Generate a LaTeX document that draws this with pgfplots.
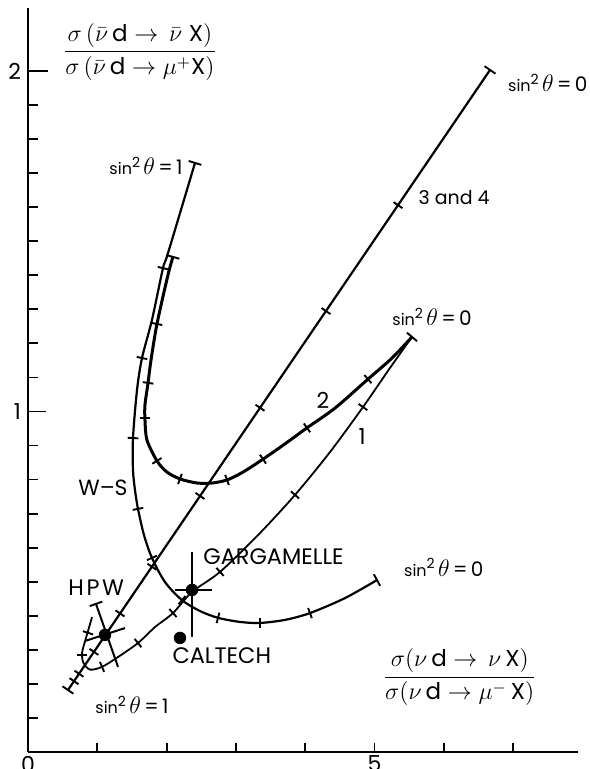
\documentclass[border=0pt]{standalone}
\usepackage{fontspec}
\setmainfont{Poppins}
\usepackage{pgfplots}
\pgfplotsset{compat=1.18}
\pgfplotsset{
  tk/.style={only marks, scatter, mark=|, mark size=#1,
    scatter/use mapped color={draw=black,fill=black},
    mark options={line width=0.95pt},
    visualization depends on={\thisrow{a} \as \ang},
    scatter/@pre marker code/.append style={/tikz/rotate=\ang}},
}
\newcommand\sinth[1]{{\fontsize{8}{9}\selectfont sin}\raisebox{0.7ex}{\fontsize{7}{8}\selectfont 2}\,{\fontsize{13}{13}\selectfont$\theta$}{\fontsize{10}{11}\selectfont\,=\,#1}}
\begin{document}
\begin{tikzpicture}
\useasboundingbox (-14pt,-8.5pt) rectangle (280.5pt,376pt);
\begin{axis}[
  at={(0,0)}, anchor=south west,
  x=34.65pt, y=170.25pt,
  xmin=0, xmax=7.93, ymin=0, ymax=2.185,
  axis lines=left,
  axis line style={-, line width=1.2pt},
  tick align=inside,
  xtick={0,1,...,7}, xticklabels={0,,,,,5,,},
  ytick={1,2}, yticklabels={1,2},
  minor ytick={0.1,0.2,0.3,0.4,0.5,0.6,0.7,0.8,0.9,1.1,1.2,1.3,1.4,1.5,1.6,1.7,1.8,1.9},
  major tick length=4.5pt, minor tick length=5pt,
  tick style={black, line width=0.9pt},
  ticklabel style={font=\fontsize{11}{12}\selectfont},
  xticklabel style={yshift=1.5pt},
  clip=false,
]
% line 3 and 4
\addplot[line width=1.1pt] coordinates {(0.577,0.182) (6.667,2.003)};
\addplot[tk=2.7pt] table[row sep=\\] {x y a\\
5.339 1.606 55.8\\ 4.300 1.295 55.8\\ 3.348 1.011 55.8\\ 2.482 0.752 55.8\\
1.789 0.544 55.8\\ 1.328 0.407 55.8\\ 0.952 0.294 55.8\\ 0.736 0.230 55.8\\ 0.664 0.208 55.8\\};
% W-S
\addplot[line width=1.1pt, smooth, tension=0.5] coordinates {
(2.410,1.730) (2.020,1.465) (1.948,1.421) (1.789,1.269) (1.645,1.157) (1.573,1.063)
(1.515,0.922) (1.515,0.828) (1.544,0.769) (1.587,0.714) (1.674,0.637) (1.789,0.570)
(1.977,0.499) (2.222,0.446) (2.482,0.414) (2.742,0.394) (3.059,0.382) (3.348,0.379)
(3.709,0.388) (4.069,0.408) (4.574,0.452) (5.036,0.505)};
\addplot[tk=2.7pt] table[row sep=\\] {x y a\\
1.948 1.421 76.6\\ 1.645 1.157 78\\ 1.515 0.922 87\\ 1.587 0.714 -79\\ 1.789 0.570 -66\\
2.222 0.446 -40\\ 2.742 0.394 -15\\ 3.348 0.379 0\\ 4.069 0.408 20\\};
% curve 2
\addplot[line width=1.5pt, smooth, tension=0.5] coordinates {
(2.092,1.454) (2.020,1.401) (1.861,1.257) (1.775,1.151) (1.732,1.084) (1.688,1.019)
(1.688,0.975) (1.717,0.916) (1.861,0.855) (2.006,0.822) (2.193,0.802) (2.439,0.790)
(2.655,0.790) (2.872,0.799) (3.102,0.822) (3.391,0.860) (3.709,0.905) (4.026,0.952)
(4.430,1.010) (4.906,1.095) (5.253,1.157) (5.541,1.219)};
\addplot[tk=2.7pt] table[row sep=\\] {x y a\\
1.861 1.257 79\\ 1.732 1.084 82\\ 1.688 0.981 90\\ 1.861 0.855 -58\\ 2.193 0.802 -20\\
2.872 0.799 20\\ 3.391 0.860 34\\ 4.026 0.952 36\\ 4.906 1.095 41\\};
% curve 1
\addplot[line width=0.9pt, smooth, tension=0.5] coordinates {
(5.541,1.219) (5.224,1.128) (4.834,1.013) (4.358,0.881) (3.853,0.755) (3.319,0.637)
(2.771,0.529) (2.367,0.470) (2.092,0.408) (1.833,0.367) (1.587,0.320) (1.299,0.279)
(1.068,0.250) (0.895,0.242) (0.800,0.262) (0.779,0.290) (0.830,0.330) (0.924,0.396)};
\addplot[tk=2.7pt] table[row sep=\\] {x y a\\
4.834 1.013 54.5\\ 3.853 0.755 49\\ 2.771 0.529 42\\ 2.092 0.408 42\\ 1.587 0.320 39\\
1.068 0.250 23\\ 0.779 0.285 90\\ 0.866 0.350 72\\};
% end caps
\addplot[tk=3.3pt] table[row sep=\\] {x y a\\
6.667 2.003 55.8\\ 0.577 0.182 55.8\\ 2.410 1.730 73\\ 5.036 0.505 29\\
2.092 1.454 74\\ 5.541 1.219 50\\ 0.981 0.435 -70.7\\};
% data points and error bars
\addplot[line width=1pt] coordinates {(0.981,0.435) (1.299,0.250)};
\addplot[line width=1pt] coordinates {(0.823,0.326) (1.400,0.364)};
\addplot[line width=1pt] coordinates {(2.367,0.338) (2.367,0.587)};
\addplot[line width=1pt] coordinates {(2.121,0.476) (2.655,0.476)};
\addplot[only marks, mark=*, mark size=2.9pt, black] coordinates {(1.111,0.344) (2.367,0.476) (2.193,0.335)};
% longer major y ticks
\draw[line width=0.9pt] (axis cs:0,1) -- ++(9pt,0);
\draw[line width=0.9pt] (axis cs:0,2) -- ++(10pt,0);
% labels
\node[font=\fontsize{11.5}{13}\selectfont] at (axis cs:1.616,2.056)
  {$\displaystyle\frac{\sigma\,(\bar\nu\,\mbox{d}\to\,\bar\nu\;\mbox{X})}{\sigma\,(\bar\nu\,\mbox{d}\to\mu^{+}\mbox{X})}$};
\node[font=\fontsize{11.5}{13}\selectfont] at (axis cs:6.23,0.220)
  {$\displaystyle\frac{\sigma(\nu\,\mbox{d}\to\,\nu\,\mbox{X})}{\sigma(\nu\,\mbox{d}\to\mu^{-}\,\mbox{X})}$};
\node at (axis cs:1.703,1.721) {\sinth{1}};
\node at (axis cs:7.50,1.965) {\sinth{0}};
\node at (axis cs:5.83,1.278) {\sinth{0}};
\node at (axis cs:6.00,0.543) {\sinth{0}};
\node at (axis cs:1.50,0.138) {\sinth{1}};
\node[font=\fontsize{9.5}{12}\selectfont, anchor=west, inner sep=0pt] at (axis cs:5.63,1.627) {3 and 4};
\node[font=\fontsize{11}{12}\selectfont] at (axis cs:4.257,1.034) {2};
\node[font=\fontsize{11}{12}\selectfont] at (axis cs:4.82,0.925) {1};
\node[font=\fontsize{11}{12}\selectfont] at (axis cs:1.082,0.775) {W--S};
\node[font=\fontsize{11.2}{12}\selectfont, anchor=west, inner sep=0pt] at (axis cs:2.525,0.573) {GARGAMELLE};
\node[font=\fontsize{11.2}{12}\selectfont, anchor=west, inner sep=0pt] at (axis cs:0.577,0.482) {\addfontfeature{LetterSpace=12}HPW};
\node[font=\fontsize{11.2}{12}\selectfont, anchor=west, inner sep=0pt] at (axis cs:2.08,0.282) {CALTECH};
\end{axis}
\end{tikzpicture}
\end{document}
